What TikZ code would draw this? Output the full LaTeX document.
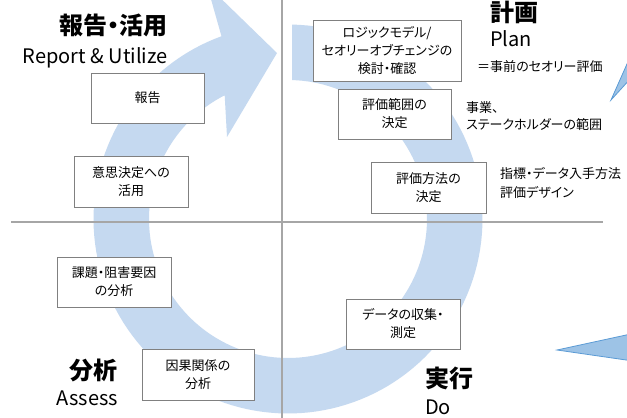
\documentclass[tikz,border=0pt]{standalone}
\usepackage{fontspec}
\setmainfont{Noto Sans CJK JP}[RawFeature={+palt}]
\definecolor{ringc}{RGB}{197,217,240}
\definecolor{trifill}{RGB}{157,195,230}
\definecolor{triedge}{RGB}{91,155,213}
\definecolor{axisc}{RGB}{166,166,166}
\definecolor{boxc}{RGB}{128,128,128}
\tikzset{
  box/.style={draw=boxc, line width=0.9pt, fill=white, inner sep=0pt, align=center,
    font=\fontsize{13}{18}\selectfont},
  note/.style={inner sep=0pt, align=left, anchor=west, font=\fontsize{13}{18}\selectfont},
  titlejp/.style={inner sep=0pt, font=\fontsize{24}{28}\selectfont\bfseries},
  titleen/.style={inner sep=0pt, font=\fontsize{20}{24}\selectfont},
  axisline/.style={draw=axisc, line width=1.3pt},
  tri/.style={fill=trifill, draw=triedge, line width=0.8pt}
}
\begin{document}
\begin{tikzpicture}[x=1pt,y=-1pt]
\useasboundingbox (0,0) rectangle (627,418);
\clip (0,0) rectangle (627,418);
\fill[white] (0,0) rectangle (627,418);
% circular arrow
\fill[ringc] plot[domain=-88.8:250.0, samples=150] ({288+194.5*cos(\x)},{219+194.5*sin(\x)})
  -- (207,-15) -- (277,53) -- (227,137)
  -- plot[domain=242.9:-88.35, samples=150] ({288+139*cos(\x)},{219+139*sin(\x)}) -- cycle;
% axes
\coordinate (hl) at (11,222);
\coordinate (hr) at (603,222);
\coordinate (vt) at (282,0);
\coordinate (vb) at (282,418);
\draw[axisline] (hl) -- (hr);
\draw[axisline] (vt) -- (vb);
% edge triangles
\filldraw[tri] (611,100) -- (631,55) -- (631,78) -- cycle;
\filldraw[tri] (557,350) -- (640,332) -- (640,362) -- cycle;
% boxes
\node[box, minimum width=148pt, minimum height=61pt] (b1) at (387,50.5) {ロジックモデル/\\セオリーオブチェンジの\\検討・確認};
\node[box, minimum width=113pt, minimum height=50pt] (b2) at (394.5,114) {評価範囲の\\決定};
\node[box, minimum width=115pt, minimum height=51pt] (b3) at (428.5,187.5) {評価方法の\\決定};
\node[box, minimum width=114pt, minimum height=50pt] (b4) at (403,324) {データの収集・\\測定};
\node[box, minimum width=112pt, minimum height=51pt] (b5) at (198,374.5) {因果関係の\\分析};
\node[box, minimum width=114pt, minimum height=50pt] (b6) at (114,282) {課題・阻害要因\\の分析};
\node[box, minimum width=114pt, minimum height=51pt] (b7) at (131,181.5) {意思決定への\\活用};
\node[box, minimum width=113pt, minimum height=50pt] (b8) at (147.5,98) {報告};
% titles
\node[titlejp, anchor=east] (t1) at (168,25) {報告・活用};
\node[titleen, anchor=base east] (e1) at (168,63) {Report \& Utilize};
\node[titlejp, anchor=west] (t2) at (490,12) {計画};
\node[titleen, anchor=base west] (e2) at (490,46) {Plan};
\node[titlejp, anchor=west] (t3) at (425,378) {実行};
\node[titleen, anchor=base west] (e3) at (425,414) {Do};
\node[titlejp, anchor=east] (t4) at (118,370) {分析};
\node[titleen, anchor=base east] (e4) at (118,405) {Assess};
% notes
\node[note] (n1) at (477,67) {＝事前のセオリー評価};
\node[note, font=\fontsize{13}{17}\selectfont] (n2) at (466,116.5) {事業、\\ステークホルダーの範囲};
\node[note, font=\fontsize{13}{19}\selectfont] (n3) at (500,182.5) {指標・データ入手方法\\評価デザイン};
\end{tikzpicture}
\end{document}
